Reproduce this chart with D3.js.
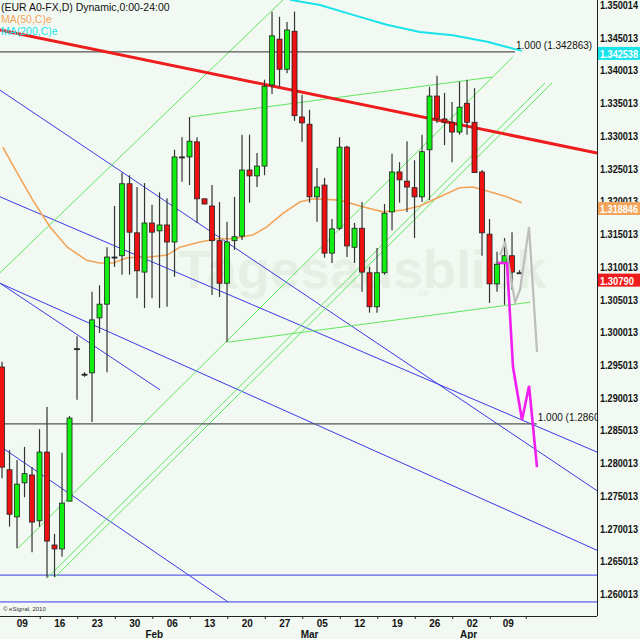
<!DOCTYPE html>
<html>
<head>
<meta charset="utf-8">
<script src="https://cdn.jsdelivr.net/npm/d3@7"></script>
<style>
  body { margin: 0; background: #f2f9f2; }
  text { font-family: "Liberation Sans", Arial, sans-serif; }
</style>
</head>
<body>
<svg id="chart" width="640" height="639"></svg>
<script>
// daily candles, [open, high, low, close], index = trading day
var candles = [
  [1.2947,1.2955,1.2777,1.2794],[1.2790,1.2820,1.2703,1.2722],[1.2718,1.2805,1.2670,1.2768],
  [1.2770,1.2825,1.2748,1.2784],[1.2782,1.2794,1.2664,1.2710],[1.2712,1.2852,1.2703,1.2817],
  [1.2817,1.2886,1.2625,1.2681],[1.2675,1.2692,1.2626,1.2669],[1.2669,1.2816,1.2657,1.2739],
  [1.2742,1.2872,1.2742,1.2869],[1.2975,1.2994,1.2897,1.2975],[1.2936,1.2939,1.2932,1.2936],
  [1.2938,1.3062,1.2863,1.3019],[1.3022,1.3072,1.2999,1.3043],[1.3043,1.3130,1.2939,1.3115],
  [1.3115,1.3193,1.3100,1.3115],[1.3117,1.3244,1.3088,1.3227],[1.3227,1.3240,1.3088,1.3153],
  [1.3152,1.3222,1.3052,1.3094],[1.3092,1.3228,1.3037,1.3167],[1.3167,1.3195,1.3052,1.3153],
  [1.3155,1.3214,1.3037,1.3164],[1.3164,1.3205,1.3039,1.3138],[1.3138,1.3279,1.3085,1.3268],
  [1.3268,1.3298,1.3230,1.3268],[1.3268,1.3329,1.3225,1.3292],[1.3291,1.3298,1.3167,1.3204],
  [1.3204,1.3204,1.3196,1.3196],[1.3193,1.3225,1.3057,1.3140],[1.3140,1.3199,1.3054,1.3075],
  [1.3075,1.3169,1.2985,1.3138],[1.3140,1.3207,1.3126,1.3146],[1.3147,1.3302,1.3141,1.3248],
  [1.3248,1.3302,1.3198,1.3239],[1.3239,1.3274,1.3222,1.3254],[1.3254,1.3386,1.3240,1.3376],
  [1.3378,1.3490,1.3364,1.3453],[1.3448,1.3482,1.3375,1.3402],[1.3402,1.3474,1.3396,1.3462],
  [1.3460,1.3490,1.3323,1.3331],[1.3329,1.3363,1.3291,1.3320],[1.3318,1.3340,1.3198,1.3207],
  [1.3207,1.3251,1.3169,1.3222],[1.3225,1.3236,1.3114,1.3121],[1.3121,1.3173,1.3106,1.3158],
  [1.3159,1.3298,1.3156,1.3283],[1.3283,1.3285,1.3115,1.3132],[1.3130,1.3167,1.3106,1.3159],
  [1.3159,1.3199,1.3062,1.3092],[1.3091,1.3100,1.3030,1.3039],[1.3039,1.3129,1.3030,1.3091],
  [1.3091,1.3196,1.3088,1.3182],[1.3184,1.3273,1.3156,1.3245],[1.3245,1.3260,1.3198,1.3233],
  [1.3231,1.3292,1.3184,1.3222],[1.3221,1.3263,1.3144,1.3207],[1.3207,1.3302,1.3199,1.3276],
  [1.3279,1.3375,1.3202,1.3361],[1.3361,1.3392,1.3320,1.3326],[1.3326,1.3366,1.3286,1.3321],
  [1.3321,1.3352,1.3260,1.3306],[1.3306,1.3383,1.3302,1.3344],[1.3350,1.3386,1.3302,1.3321],
  [1.3321,1.3373,1.3244,1.3244],[1.3245,1.3248,1.3117,1.3152],[1.3150,1.3173,1.3045,1.3074],
  [1.3074,1.3123,1.3062,1.3104],[1.3106,1.3144,1.3042,1.3117],[1.3117,1.3153,1.3065,1.3092],
  [1.3091,1.3095,1.3091,1.3091]
];

// moving averages, [index, value]
var ma50 = [[0.1,1.3283],[2,1.3244],[4.1,1.3202],[6.4,1.3161],[8.7,1.3130],[11.3,1.3110],
  [13,1.3106],[14.8,1.3106],[16.7,1.3114],[19.7,1.3115],[22,1.3118],[23.7,1.3130],
  [26.4,1.3138],[28.7,1.3143],[30.8,1.3143],[33.5,1.3149],[35.3,1.3161],[37.5,1.3182],
  [39.7,1.3199],[41.5,1.3204],[45,1.3202],[48.1,1.3192],[50.8,1.3184],[53.5,1.3187],
  [55.7,1.3193],[58.4,1.3207],[61,1.3221],[62.8,1.3222],[64.7,1.3216],[67.3,1.3207],[69.3,1.3198]];
var ma200 = [[38.4,1.3508],[42.4,1.3500],[46.8,1.3485],[51.3,1.3470],[55.7,1.3459],
  [60.1,1.3454],[64.7,1.3444],[67.3,1.3436],[69.3,1.3430]];

// drawn lines, [i1, p1, i2, p2]
var redLine = [-0.27,1.3462,79.33,1.3274];
var blueLines = [
  [-0.27,1.3370,79.33,1.2758],[-0.27,1.3207,79.33,1.2817],[-0.27,1.3075,21.07,1.2912],
  [-0.27,1.3075,79.33,1.2667],[-0.27,1.2826,30.13,1.2588],
  [-0.27,1.2629,79.33,1.2629],[-0.27,1.2588,79.33,1.2588]
];
var greenLines = [
  [-0.27,1.3091,37.47,1.3508],[2.13,1.2670,68.13,1.3421],[6.13,1.2626,72.4,1.3381],
  [7.07,1.2626,73.33,1.3381],[25.07,1.3329,65.33,1.3390],[30.13,1.2985,70.4,1.3046]
];
var fibLines = [[-0.27,1.342863,68.4,"1.000 (1.342863)"],[-0.27,1.2860,71.3,"1.000 (1.2860"]];
var magentaPath = [[66.13,1.3106],[67.33,1.3106],[68.13,1.2947],[69.33,1.2866],[70.27,1.2918],[71.33,1.2794]];
var grayPath = [[66.4,1.3118],[67.07,1.3137],[68.4,1.3046],[69.07,1.3065],[70.27,1.3161],[71.33,1.2970]];

var priceTicks = ["1.350014","1.345013","1.340013","1.335013","1.330013","1.325013","1.320013",
  "1.315013","1.310013","1.305013","1.300013","1.295013","1.290013","1.285013","1.280013",
  "1.275013","1.270013","1.265013","1.260013"];
var dayTickIdx = [2.7,7.7,12.7,17.7,22.7,27.7,32.7,37.7,42.7,47.7,52.7,57.7,62.7,67.5];
var dayTickLabels = ["09","16","23","30","06","13","20","27","05","12","19","26","02","09"];
var monthIdx = [20.3,41,62.2];
var monthLabels = ["Feb","Mar","Apr"];
var priceBoxes = [[1.342538,"1.342538","#19e3ea"],[1.318846,"1.318846","#f2a55a"],[1.30790,"1.30790","#ee1c1c"]];

var W = 597, H = 616;
var svg = d3.select("#chart");
var x = d3.scaleLinear().domain([-0.27, 79.33]).range([0, W]);
var y = d3.scaleLinear().domain([1.350014, 1.260013]).range([5, 594]);

svg.append("rect").attr("width", 640).attr("height", 639).attr("fill", "#f2f9f2");

var plot = svg.append("g");
plot.append("clipPath").attr("id", "clip").append("rect").attr("width", W).attr("height", H);
var g = plot.append("g").attr("clip-path", "url(#clip)");

// watermark
g.append("text").attr("x", 178).attr("y", 288).attr("font-size", 54).attr("font-weight", "bold")
  .attr("fill", "#e6efe4").text("Tagesausblick");
g.append("text").attr("x", 418).attr("y", 296).attr("font-size", 10).attr("fill", "#e6efe4").text("de");

function seg(arr, color, width) {
  g.selectAll(null).data(arr).enter().append("line")
    .attr("x1", function(d) { return x(d[0]); }).attr("y1", function(d) { return y(d[1]); })
    .attr("x2", function(d) { return x(d[2]); }).attr("y2", function(d) { return y(d[3]); })
    .attr("stroke", color).attr("stroke-width", width);
}
seg(blueLines, "#3a3ae6", 1);
seg(greenLines, "#5ee85e", 1);

// fib horizontals
g.selectAll(null).data(fibLines).enter().append("line")
  .attr("x1", function(d) { return x(d[0]); }).attr("x2", function(d) { return x(d[2]); })
  .attr("y1", function(d) { return y(d[1]); }).attr("y2", function(d) { return y(d[1]); })
  .attr("stroke", "#555").attr("stroke-width", 1.3);
g.selectAll(null).data(fibLines).enter().append("text")
  .attr("x", function(d) { return x(d[2]) + 1; }).attr("y", function(d) { return y(d[1]) - 3; })
  .attr("font-size", 10).attr("fill", "#111").text(function(d) { return d[3]; });

var line = d3.line().x(function(d) { return x(d[0]); }).y(function(d) { return y(d[1]); });
g.append("path").attr("d", line(ma200)).attr("fill", "none").attr("stroke", "#19e3ea").attr("stroke-width", 2);
g.append("path").attr("d", line(ma50)).attr("fill", "none").attr("stroke", "#f2a55a").attr("stroke-width", 1.6);
seg([redLine], "#ee1c1c", 3);

// candles
var c = g.selectAll(".candle").data(candles).enter().append("g").attr("class", "candle");
c.append("line")
  .attr("x1", function(d, i) { return x(i); }).attr("x2", function(d, i) { return x(i); })
  .attr("y1", function(d) { return y(d[1]); }).attr("y2", function(d) { return y(d[2]); })
  .attr("stroke", "#333").attr("stroke-width", 1.2);
c.append("rect")
  .attr("x", function(d, i) { return x(i) - 2.5; }).attr("width", 5)
  .attr("y", function(d) { return y(Math.max(d[0], d[3])); })
  .attr("height", function(d) { return Math.max(1, Math.abs(y(d[0]) - y(d[3]))); })
  .attr("fill", function(d) { return d[3] > d[0] ? "#11ee11" : (d[3] < d[0] ? "#ee1111" : "#222"); })
  .attr("stroke", "#222").attr("stroke-width", 0.8);

// projections
g.append("path").attr("d", line(grayPath)).attr("fill", "none").attr("stroke", "#bdbdbd").attr("stroke-width", 2.2);
g.append("path").attr("d", line(magentaPath)).attr("fill", "none").attr("stroke", "#f01ef0").attr("stroke-width", 2.6);

// legend
svg.append("text").attr("x", 1).attr("y", 11).attr("font-size", 10.5).attr("fill", "#111")
  .text("(EUR A0-FX,D) Dynamic,0:00-24:00");
svg.append("text").attr("x", 1).attr("y", 23).attr("font-size", 10.5).attr("fill", "#f2a55a").text("MA(50,C)e");
svg.append("text").attr("x", 1).attr("y", 35).attr("font-size", 10.5).attr("fill", "#19e3ea").text("MA(200,C)e");
svg.append("text").attr("x", 3).attr("y", 611).attr("font-size", 6).attr("fill", "#333").text("© eSignal, 2010");

// axes frame
svg.append("line").attr("x1", W + 0.5).attr("x2", W + 0.5).attr("y1", 0).attr("y2", H).attr("stroke", "#222");
svg.append("line").attr("x1", 0).attr("x2", W).attr("y1", H + 0.5).attr("y2", H + 0.5).attr("stroke", "#222");

svg.selectAll(".pt").data(priceTicks).enter().append("text").attr("class", "pt")
  .attr("x", 600).attr("y", function(d) { return y(+d) + 4; })
  .attr("font-size", 10).attr("font-weight", "bold").attr("fill", "#111")
  .attr("textLength", 38).attr("lengthAdjust", "spacingAndGlyphs").text(function(d) { return d; });

svg.selectAll(".pb").data(priceBoxes).enter().append("rect").attr("class", "pb")
  .attr("x", 598).attr("width", 42).attr("y", function(d) { return y(d[0]) - 7; }).attr("height", 13)
  .attr("fill", function(d) { return d[2]; });
svg.selectAll(".pbt").data(priceBoxes).enter().append("text").attr("class", "pbt")
  .attr("x", 600).attr("y", function(d) { return y(d[0]) + 4; })
  .attr("font-size", 10).attr("font-weight", "bold").attr("fill", "#fff")
  .attr("textLength", function(d) { return d[1].length > 7 ? 38 : 34; }).attr("lengthAdjust", "spacingAndGlyphs")
  .text(function(d) { return d[1]; });

svg.selectAll(".dt").data(dayTickIdx).enter().append("text").attr("class", "dt")
  .attr("x", function(d) { return x(d); }).attr("y", 627).attr("text-anchor", "middle")
  .attr("font-size", 10).attr("font-weight", "bold").attr("fill", "#111")
  .text(function(d, i) { return dayTickLabels[i]; });
svg.selectAll(".dtk").data(dayTickIdx).enter().append("line").attr("class", "dtk")
  .attr("x1", function(d) { return x(d) + 18; }).attr("x2", function(d) { return x(d) + 18; })
  .attr("y1", H).attr("y2", H + 3).attr("stroke", "#222");
svg.selectAll(".mt").data(monthIdx).enter().append("text").attr("class", "mt")
  .attr("x", function(d) { return x(d); }).attr("y", 638).attr("text-anchor", "middle")
  .attr("font-size", 10).attr("font-weight", "bold").attr("fill", "#111")
  .text(function(d, i) { return monthLabels[i]; });
</script>
</body>
</html>
